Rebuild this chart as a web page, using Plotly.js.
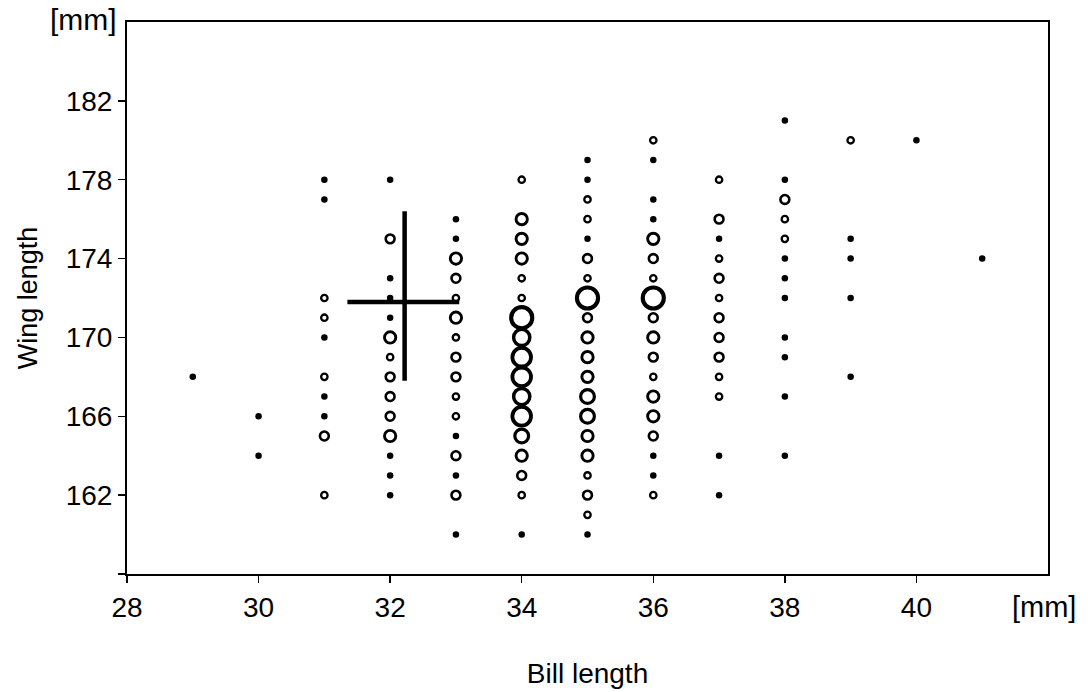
<!DOCTYPE html>
<html>
<head>
<meta charset="utf-8">
<script src="https://cdn.plot.ly/plotly-3.0.1.min.js"></script>
<style>html,body{margin:0;padding:0;background:#fff;}#chart{width:1088px;height:692px;}</style>
</head>
<body>
<div id="chart"></div>
<script>
// Bill length columns (mm)
const billValues = [29, 30, 31, 32, 33, 34, 35, 36, 37, 38, 39, 40, 41];

// Wing length (mm) observed at each bill length, and number of birds at each point
const wing29 = [168];
const cnt29  = [1];
const wing30 = [166, 164];
const cnt30  = [1, 1];
const wing31 = [178, 177, 172, 171, 170, 168, 167, 166, 165, 162];
const cnt31  = [1, 1, 2, 2, 1, 2, 1, 1, 3, 2];
const wing32 = [178, 175, 173, 172, 171, 170, 169, 168, 167, 166, 165, 164, 163, 162];
const cnt32  = [1, 3, 1, 1, 1, 4, 2, 3, 3, 3, 4, 1, 1, 1];
const wing33 = [176, 175, 174, 173, 172, 171, 170, 169, 168, 167, 166, 165, 164, 163, 162, 160];
const cnt33  = [1, 1, 4, 3, 2, 4, 2, 3, 3, 2, 2, 1, 3, 1, 3, 1];
const wing34 = [178, 176, 175, 174, 173, 172, 171, 170, 169, 168, 167, 166, 165, 164, 163, 162, 160];
const cnt34  = [2, 4, 4, 4, 2, 2, 8, 6, 7, 7, 6, 7, 5, 4, 3, 2, 1];
const wing35 = [179, 178, 177, 176, 175, 174, 173, 172, 171, 170, 169, 168, 167, 166, 165, 164, 163, 162, 161, 160];
const cnt35  = [1, 1, 2, 2, 1, 3, 2, 8, 3, 4, 4, 4, 5, 5, 4, 4, 2, 3, 2, 1];
const wing36 = [180, 179, 177, 176, 175, 174, 173, 172, 171, 170, 169, 168, 167, 166, 165, 164, 163, 162];
const cnt36  = [2, 1, 1, 1, 4, 3, 2, 8, 3, 4, 3, 2, 4, 4, 3, 1, 1, 2];
const wing37 = [178, 176, 175, 174, 173, 172, 171, 170, 169, 168, 167, 164, 162];
const cnt37  = [2, 3, 1, 2, 3, 2, 3, 3, 3, 2, 2, 1, 1];
const wing38 = [181, 178, 177, 176, 175, 174, 173, 172, 170, 169, 167, 164];
const cnt38  = [1, 1, 3, 2, 2, 1, 1, 1, 1, 1, 1, 1];
const wing39 = [180, 175, 174, 172, 168];
const cnt39  = [2, 1, 1, 1, 1];
const wing40 = [180];
const cnt40  = [1];
const wing41 = [174];
const cnt41  = [1];

// Mean and spread (cross)
const crossHX = [31.35, 33.05];
const crossHY = [171.8, 171.8];
const crossVX = [32.22, 32.22];
const crossVY = [167.8, 176.4];

// Axis ticks
const xTicks = [28, 30, 32, 34, 36, 38, 40];
const yTicks = [158, 162, 166, 170, 174, 178, 182];
const yTickText = ['', '162', '166', '170', '174', '178', '182'];

const wingCols = [wing29, wing30, wing31, wing32, wing33, wing34, wing35, wing36, wing37, wing38, wing39, wing40, wing41];
const cntCols  = [cnt29, cnt30, cnt31, cnt32, cnt33, cnt34, cnt35, cnt36, cnt37, cnt38, cnt39, cnt40, cnt41];

const fx = [], fy = [];
const ox = [], oy = [], oc = [];
billValues.forEach((b, i) => {
  wingCols[i].forEach((w, j) => {
    const c = cntCols[i][j];
    if (c === 1) { fx.push(b); fy.push(w); }
    else { ox.push(b); oy.push(w); oc.push(c); }
  });
});
const lw = oc.map(c => 1.7 + 0.3 * c);
const sz = oc.map((c, k) => 2.75 * c + 3.2 - lw[k]);

const font = 'Arial, "Liberation Sans", sans-serif';

const traces = [
  { x: fx, y: fy, mode: 'markers', type: 'scatter', hoverinfo: 'x+y',
    marker: { symbol: 'circle', size: 6.5, color: 'black', opacity: 1, line: { width: 0 } } },
  { x: ox, y: oy, mode: 'markers', type: 'scatter', text: oc, hoverinfo: 'x+y+text',
    marker: { symbol: 'circle-open', size: sz, color: 'black', opacity: 1, line: { width: lw, color: 'black' } } },
  { x: crossHX, y: crossHY, mode: 'lines', type: 'scatter', hoverinfo: 'skip',
    line: { color: 'black', width: 4.5 } },
  { x: crossVX, y: crossVY, mode: 'lines', type: 'scatter', hoverinfo: 'skip',
    line: { color: 'black', width: 4.5 } }
];

const layout = {
  width: 1088, height: 692,
  margin: { l: 127, r: 40, t: 22, b: 118 },
  paper_bgcolor: 'white', plot_bgcolor: 'white',
  showlegend: false,
  font: { family: font, color: 'black', size: 28 },
  xaxis: {
    range: [28, 42], tickvals: xTicks, ticks: 'outside', ticklen: 7, tickwidth: 1.5, tickcolor: 'black',
    showline: true, linewidth: 2, linecolor: 'black', mirror: true,
    showgrid: false, zeroline: false,
    tickfont: { family: font, size: 28, color: 'black' },
    title: { text: 'Bill length', font: { family: font, size: 28, color: 'black' }, standoff: 42 }
  },
  yaxis: {
    range: [158, 186], tickvals: yTicks, ticktext: yTickText, ticks: 'outside', ticklen: 7, tickwidth: 1.5, tickcolor: 'black',
    showline: true, linewidth: 2, linecolor: 'black', mirror: true,
    showgrid: false, zeroline: false,
    tickfont: { family: font, size: 28, color: 'black' },
    title: { text: 'Wing length', font: { family: font, size: 27, color: 'black' }, standoff: 20 }
  },
  annotations: [
    { text: '[mm]', xref: 'paper', yref: 'paper', x: 0, y: 1, xanchor: 'right', yanchor: 'middle',
      xshift: -8, yshift: 3, showarrow: false, font: { family: font, size: 30, color: 'black' } },
    { text: '[mm]', xref: 'paper', yref: 'paper', x: 1, y: 0, xanchor: 'center', yanchor: 'top',
      xshift: -4, yshift: -15, showarrow: false, font: { family: font, size: 29, color: 'black' } }
  ]
};

Plotly.newPlot('chart', traces, layout, { displayModeBar: false, staticPlot: true });
</script>
</body>
</html>
